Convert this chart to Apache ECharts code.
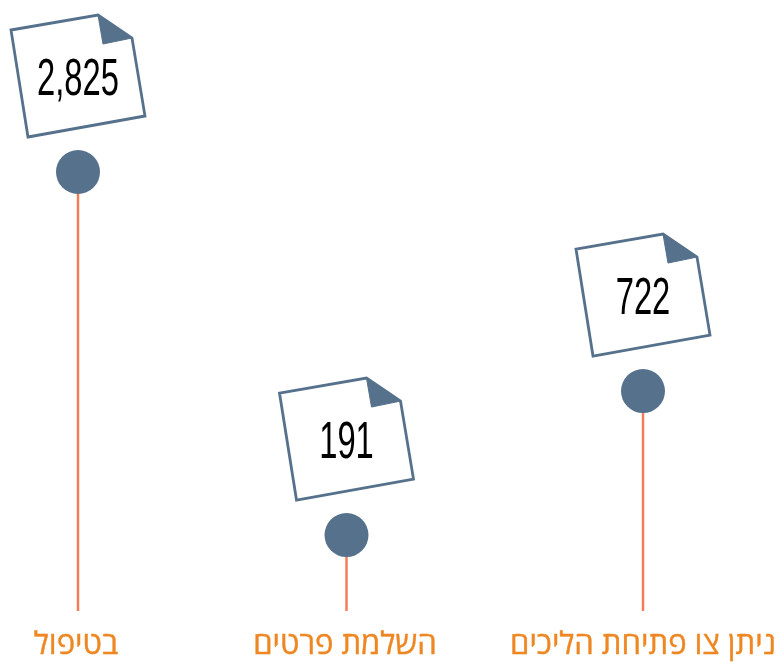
<!DOCTYPE html>
<html lang="he">
<head>
<meta charset="utf-8">
<style>html,body{margin:0;padding:0;background:#fff}#c{width:778px;height:662px}</style>
<script src="https://cdn.jsdelivr.net/npm/echarts@6/dist/echarts.min.js"></script>
</head>
<body>
<div id="c"></div>
<script>
const categories = ['בטיפול', 'השלמת פרטים', 'ניתן צו פתיחת הליכים'];
const counts = [2825, 191, 722];
const stemHeights = [100, 17.3, 50.1];

const panelCentres = [78, 346.5, 643];
const labelPadding = [[0, 4, 0, 0], [0, 3, 0, 0], [0, 0, 0, 0]];
const panelWidth = 160;
const slate = '#56718c', coral = '#f47d57', amber = '#ee8622';

function renderMark(params, api, idx) {
  const base = api.coord([categories[idx], 0]);
  const top = api.coord([categories[idx], api.value(1)]);
  const x = top[0], y = top[1];
  const pt = (dx, dy) => [x + dx, y + dy];
  return {
    type: 'group',
    children: [
      { type: 'line', shape: { x1: x, y1: base[1], x2: x, y2: y }, style: { stroke: coral, lineWidth: 2.5 } },
      { type: 'circle', shape: { cx: x, cy: y, r: 22 }, style: { fill: slate } },
      { type: 'polygon', shape: { points: [pt(-67, -142), pt(20, -157), pt(54, -134), pt(67, -56), pt(-50, -35)] },
        style: { fill: '#fff', stroke: slate, lineWidth: 2.8, lineJoin: 'miter' } },
      { type: 'polygon', shape: { points: [pt(20, -157), pt(54, -134), pt(25, -128)] }, style: { fill: slate, stroke: slate, lineWidth: 1 } },
      { type: 'text', x: x, y: y - 91, scaleX: 0.63,
        style: { text: counts[idx].toLocaleString('en-US'), fontFamily: '"Liberation Sans Narrow","Liberation Sans"', fontSize: 52,
                 fill: '#000', align: 'center', verticalAlign: 'middle' } }
    ]
  };
}

const option = {
  animation: false,
  backgroundColor: '#fff',
  grid: categories.map((_, i) => ({ left: panelCentres[i] - panelWidth / 2, width: panelWidth, top: 172, bottom: 51, outerBoundsMode: 'none' })),
  xAxis: categories.map((c, i) => ({
    type: 'category', gridIndex: i, data: [c],
    axisLine: { show: false }, axisTick: { show: false }, splitLine: { show: false },
    axisLabel: { color: amber, fontFamily: '"Open Sans","Noto Sans",sans-serif', fontWeight: 500, fontSize: 31, margin: 19,
                 padding: labelPadding[i], textBorderColor: amber, textBorderWidth: 0.4, interval: 0, hideOverlap: false }
  })),
  yAxis: categories.map((_, i) => ({ type: 'value', gridIndex: i, min: 0, max: 100, show: false })),
  series: categories.map((c, i) => ({
    type: 'custom', xAxisIndex: i, yAxisIndex: i, clip: false,
    data: [[c, stemHeights[i]]],
    encode: { x: 0, y: 1 },
    renderItem: (p, api) => renderMark(p, api, i)
  }))
};
echarts.init(document.getElementById('c'), null, { renderer: 'canvas' }).setOption(option);
</script>
</body>
</html>
